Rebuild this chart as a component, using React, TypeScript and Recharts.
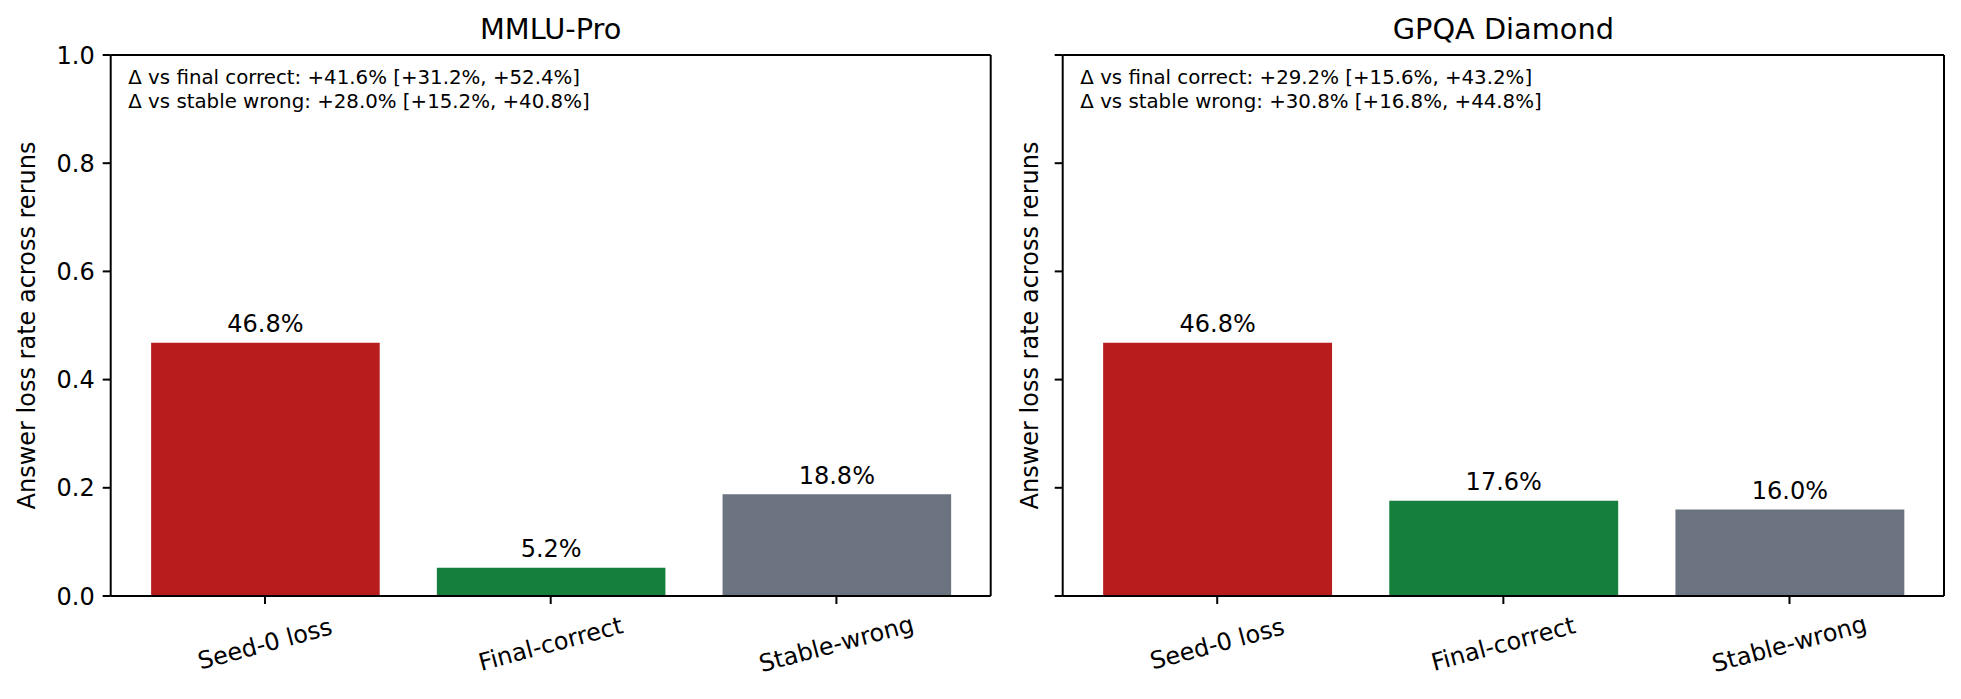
import React from "react";
import {
  BarChart,
  Bar,
  XAxis,
  YAxis,
  Cell,
  LabelList,
} from "recharts";

const categories = ["Seed-0 loss", "Final-correct", "Stable-wrong"];
const mmluValues = [0.468, 0.052, 0.188];
const gpqaValues = [0.468, 0.176, 0.16];
const barColors = ["#b91c1c", "#15803d", "#6b7280"];
const yTicks = [0, 0.2, 0.4, 0.6, 0.8, 1.0];

const mmluNotes = [
  "Δ vs final correct: +41.6% [+31.2%, +52.4%]",
  "Δ vs stable wrong: +28.0% [+15.2%, +40.8%]",
];
const gpqaNotes = [
  "Δ vs final correct: +29.2% [+15.6%, +43.2%]",
  "Δ vs stable wrong: +30.8% [+16.8%, +44.8%]",
];

const FONT = "'DejaVu Sans', sans-serif";
const H = 699;
const TOP = 55;
const X_AXIS_H = 103;

interface PanelProps {
  title: string;
  values: number[];
  notes: string[];
  left: number;
  width: number;
  yAxisWidth: number;
  marginRight: number;
  yLabelX: number;
  showYTicks: boolean;
}

function Panel({
  title,
  values,
  notes,
  left,
  width,
  yAxisWidth,
  marginRight,
  yLabelX,
  showYTicks,
}: PanelProps) {
  const data = categories.map((name, i) => ({ name, value: values[i] }));
  // matplotlib: bars of width 0.8 at 0,1,2 with 5% x margins -> xlim span 3.08
  const plotW = width - yAxisWidth - marginRight;
  const pad = (plotW * 0.04) / 3.08;
  const barSize = (plotW * 0.8) / 3.08;

  return (
    <div style={{ position: "absolute", left, top: 0, width, height: H }}>
      <BarChart
        width={width}
        height={H}
        data={data}
        // 1px top / right axes close the frame (axes of size 0 are not drawn)
        margin={{ top: TOP - 1, right: marginRight - 1, bottom: 0, left: 0 }}
      >
        <XAxis
          xAxisId="x"
          dataKey="name"
          height={X_AXIS_H}
          padding={{ left: pad, right: pad }}
          axisLine={{ stroke: "#000", strokeWidth: 2 }}
          tickLine={{ stroke: "#000", strokeWidth: 2 }}
          tickSize={8}
          tickMargin={0}
          interval={0}
          tick={({ x, y, payload }: any) => (
            <text
              x={x}
              y={y + 40}
              textAnchor="middle"
              dominantBaseline="central"
              fontSize={24}
              fontFamily={FONT}
              fill="#000"
              transform={`rotate(-15, ${x}, ${y + 40})`}
            >
              {payload.value}
            </text>
          )}
        />
        <XAxis
          xAxisId="top"
          dataKey="name"
          orientation="top"
          height={1}
          axisLine={{ stroke: "#000", strokeWidth: 2 }}
          tick={() => <g />}
          tickLine={false}
          label={{
            content: ({ viewBox }: any) => (
              <text
                x={viewBox.x + viewBox.width / 2}
                y={viewBox.y + 1 - 15.7}
                textAnchor="middle"
                fontSize={28.8}
                fontFamily={FONT}
                fill="#000"
              >
                {title}
              </text>
            ),
          }}
        />
        <YAxis
          yAxisId="y"
          width={yAxisWidth}
          domain={[0, 1]}
          ticks={yTicks}
          axisLine={{ stroke: "#000", strokeWidth: 2 }}
          tickLine={{ stroke: "#000", strokeWidth: 2 }}
          tickSize={8}
          tickMargin={8}
          tick={
            showYTicks
              ? { fontSize: 24, fontFamily: FONT, fill: "#000" }
              : () => <g />
          }
          tickFormatter={(v: number) => v.toFixed(1)}
          label={{
            content: ({ viewBox }: any) => {
              const cx = viewBox.x + yLabelX;
              const cy = viewBox.y + viewBox.height / 2;
              return (
                <text
                  x={cx}
                  y={cy}
                  textAnchor="middle"
                  dominantBaseline="central"
                  fontSize={24}
                  fontFamily={FONT}
                  fill="#000"
                  transform={`rotate(-90, ${cx}, ${cy})`}
                >
                  Answer loss rate across reruns
                </text>
              );
            },
          }}
        />
        <YAxis
          yAxisId="right"
          orientation="right"
          width={1}
          domain={[0, 1]}
          ticks={yTicks}
          axisLine={{ stroke: "#000", strokeWidth: 2 }}
          tick={() => <g />}
          tickLine={false}
        />
        <Bar
          xAxisId="x"
          yAxisId="y"
          dataKey="value"
          barSize={barSize}
          isAnimationActive={false}
        >
          {data.map((_, i) => (
            <Cell key={i} fill={barColors[i]} />
          ))}
          <LabelList
            dataKey="value"
            position="top"
            offset={10.7}
            formatter={(v: any) => `${(Number(v) * 100).toFixed(1)}%`}
            style={{ fontSize: 24, fontFamily: FONT, fill: "#000" }}
          />
        </Bar>
      </BarChart>
      {/* text box in the upper left of the axes */}
      <div
        style={{
          position: "absolute",
          left: yAxisWidth + plotW * 0.02,
          top: 66.4,
          fontFamily: FONT,
          fontSize: 19.8,
          lineHeight: "23.5px",
          color: "#000",
          whiteSpace: "nowrap",
        }}
      >
        {notes.map((n, i) => (
          <div key={i}>{n}</div>
        ))}
      </div>
    </div>
  );
}

export default function App() {
  return (
    <div
      style={{
        position: "relative",
        width: 1961,
        height: H,
        margin: -8,
        background: "#fff",
        fontFamily: FONT,
        overflow: "hidden",
      }}
    >
      <Panel
        title="MMLU-Pro"
        values={mmluValues}
        notes={mmluNotes}
        left={0}
        width={1000}
        yAxisWidth={110.7}
        marginRight={9.3}
        yLabelX={27}
        showYTicks
      />
      <Panel
        title="GPQA Diamond"
        values={gpqaValues}
        notes={gpqaNotes}
        left={980}
        width={981}
        yAxisWidth={82.7}
        marginRight={17}
        yLabelX={50}
        showYTicks={false}
      />
    </div>
  );
}
